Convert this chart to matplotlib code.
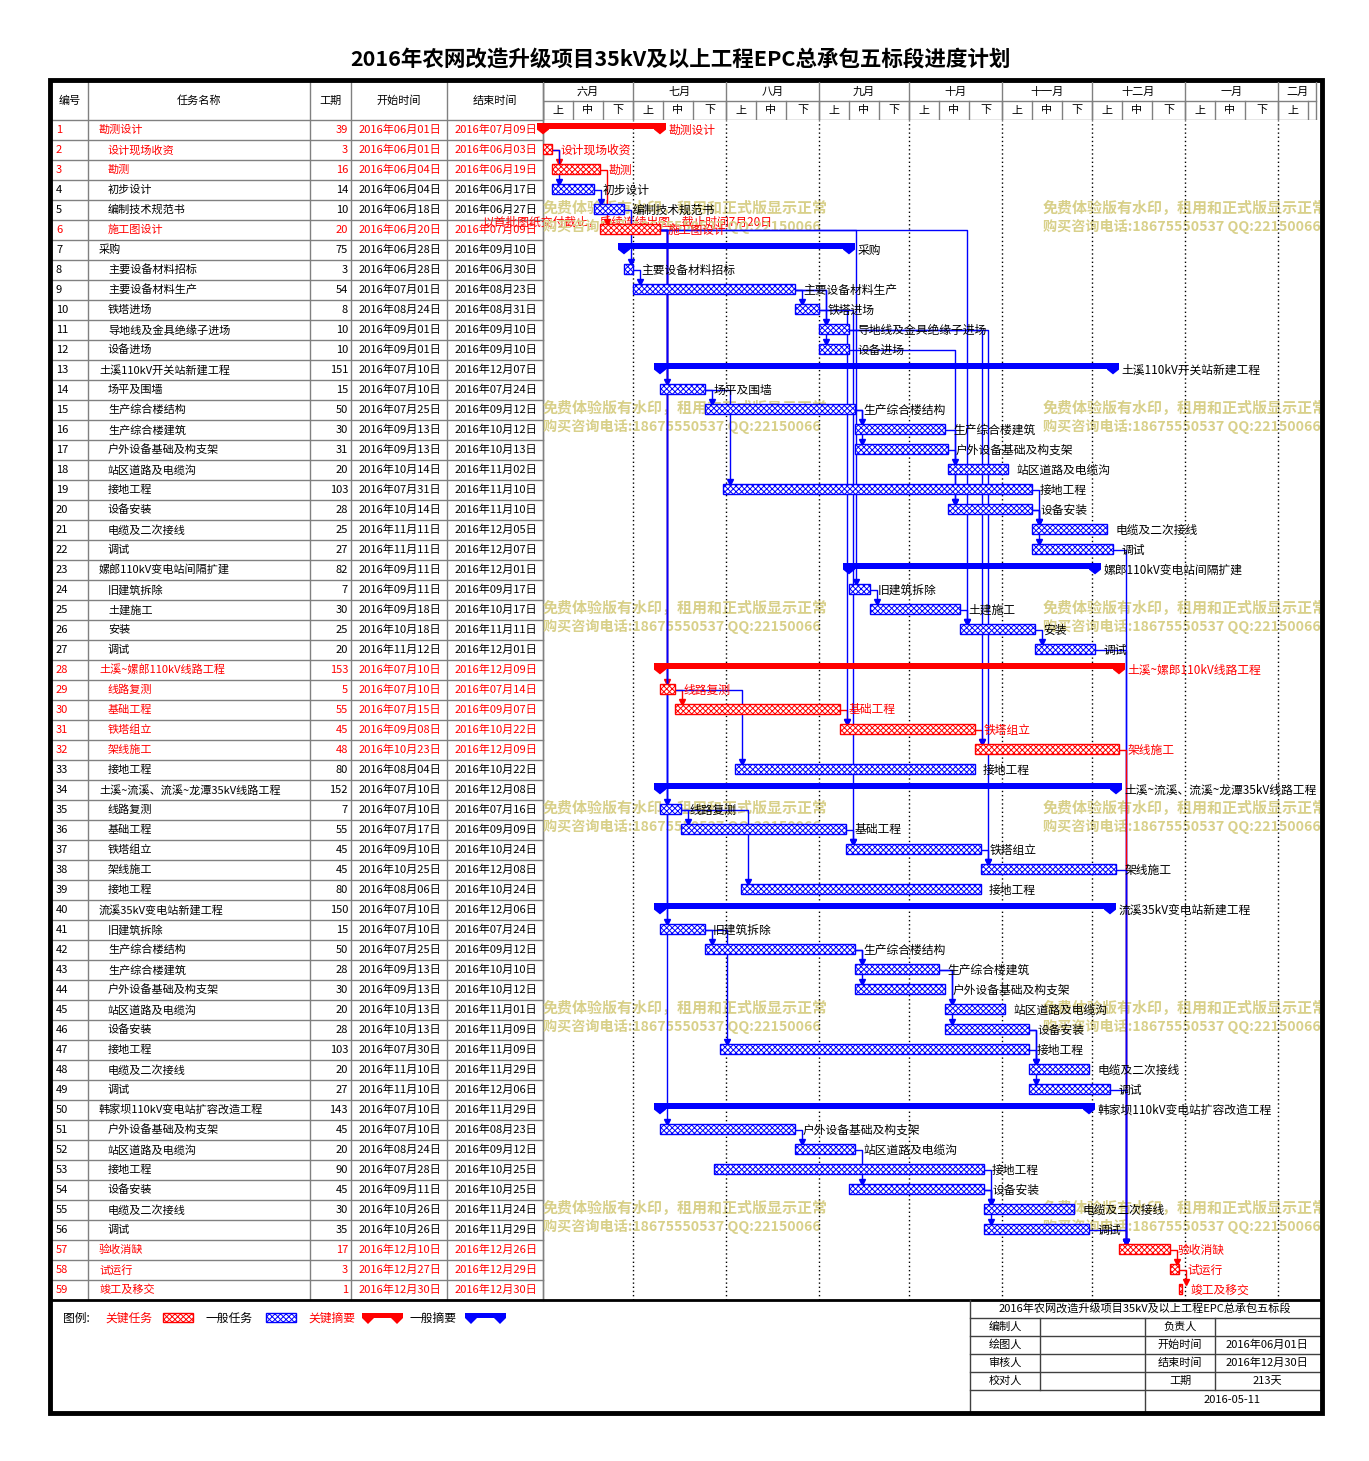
import numpy as np
import matplotlib.pyplot as plt
from matplotlib.patches import Rectangle, Polygon

plt.rcParams['font.family'] = ['Noto Sans CJK SC', 'DejaVu Sans']
plt.rcParams['hatch.linewidth'] = 0.7

title = '2016年农网改造升级项目35kV及以上工程EPC总承包五标段进度计划'

# task table
names = [
    '勘测设计', '设计现场收资', '勘测', '初步设计', '编制技术规范书', '施工图设计',
    '采购', '主要设备材料招标', '主要设备材料生产', '铁塔进场', '导地线及金具绝缘子进场', '设备进场',
    '土溪110kV开关站新建工程', '场平及围墙', '生产综合楼结构', '生产综合楼建筑', '户外设备基础及构支架',
    '站区道路及电缆沟', '接地工程', '设备安装', '电缆及二次接线', '调试',
    '嫘郎110kV变电站间隔扩建', '旧建筑拆除', '土建施工', '安装', '调试',
    '土溪~嫘郎110kV线路工程', '线路复测', '基础工程', '铁塔组立', '架线施工', '接地工程',
    '土溪~流溪、流溪~龙潭35kV线路工程', '线路复测', '基础工程', '铁塔组立', '架线施工', '接地工程',
    '流溪35kV变电站新建工程', '旧建筑拆除', '生产综合楼结构', '生产综合楼建筑', '户外设备基础及构支架',
    '站区道路及电缆沟', '设备安装', '接地工程', '电缆及二次接线', '调试',
    '韩家坝110kV变电站扩容改造工程', '户外设备基础及构支架', '站区道路及电缆沟', '接地工程', '设备安装',
    '电缆及二次接线', '调试',
    '验收消缺', '试运行', '竣工及移交',
]
durations = [39, 3, 16, 14, 10, 20, 75, 3, 54, 8, 10, 10, 151, 15, 50, 30, 31, 20, 103, 28, 25, 27,
             82, 7, 30, 25, 20, 153, 5, 55, 45, 48, 80, 152, 7, 55, 45, 45, 80,
             150, 15, 50, 28, 30, 20, 28, 103, 20, 27, 143, 45, 20, 90, 45, 30, 35, 17, 3, 1]
starts = [
    '2016-06-01', '2016-06-01', '2016-06-04', '2016-06-04', '2016-06-18', '2016-06-20',
    '2016-06-28', '2016-06-28', '2016-07-01', '2016-08-24', '2016-09-01', '2016-09-01',
    '2016-07-10', '2016-07-10', '2016-07-25', '2016-09-13', '2016-09-13', '2016-10-14',
    '2016-07-31', '2016-10-14', '2016-11-11', '2016-11-11',
    '2016-09-11', '2016-09-11', '2016-09-18', '2016-10-18', '2016-11-12',
    '2016-07-10', '2016-07-10', '2016-07-15', '2016-09-08', '2016-10-23', '2016-08-04',
    '2016-07-10', '2016-07-10', '2016-07-17', '2016-09-10', '2016-10-25', '2016-08-06',
    '2016-07-10', '2016-07-10', '2016-07-25', '2016-09-13', '2016-09-13', '2016-10-13',
    '2016-10-13', '2016-07-30', '2016-11-10', '2016-11-10',
    '2016-07-10', '2016-07-10', '2016-08-24', '2016-07-28', '2016-09-11', '2016-10-26', '2016-10-26',
    '2016-12-10', '2016-12-27', '2016-12-30',
]
ends = [
    '2016-07-09', '2016-06-03', '2016-06-19', '2016-06-17', '2016-06-27', '2016-07-09',
    '2016-09-10', '2016-06-30', '2016-08-23', '2016-08-31', '2016-09-10', '2016-09-10',
    '2016-12-07', '2016-07-24', '2016-09-12', '2016-10-12', '2016-10-13', '2016-11-02',
    '2016-11-10', '2016-11-10', '2016-12-05', '2016-12-07',
    '2016-12-01', '2016-09-17', '2016-10-17', '2016-11-11', '2016-12-01',
    '2016-12-09', '2016-07-14', '2016-09-07', '2016-10-22', '2016-12-09', '2016-10-22',
    '2016-12-08', '2016-07-16', '2016-09-09', '2016-10-24', '2016-12-08', '2016-10-24',
    '2016-12-06', '2016-07-24', '2016-09-12', '2016-10-10', '2016-10-12', '2016-11-01',
    '2016-11-09', '2016-11-09', '2016-11-29', '2016-12-06',
    '2016-11-29', '2016-08-23', '2016-09-12', '2016-10-25', '2016-10-25', '2016-11-24', '2016-11-29',
    '2016-12-26', '2016-12-29', '2016-12-30',
]
summary_rows = [1, 7, 13, 23, 28, 34, 40, 50]
critical_rows = [1, 2, 3, 6, 28, 29, 30, 31, 32, 57, 58, 59]
top_rows = [1, 7, 13, 23, 28, 34, 40, 50, 57, 58, 59]

# finish-to-start links (predecessor row, successor row)
links = [
    (2, 3), (2, 4), (3, 6), (4, 5), (5, 8), (8, 9), (9, 10), (9, 11), (9, 12),
    (6, 14), (6, 29), (6, 35), (6, 41), (6, 51), (6, 24), (6, 26),
    (14, 15), (14, 19), (15, 16), (15, 17), (16, 18), (17, 20), (12, 20),
    (19, 21), (20, 21), (20, 22),
    (24, 25), (25, 26), (26, 27),
    (29, 30), (30, 31), (31, 32), (29, 33), (10, 31), (10, 37), (11, 32), (11, 38),
    (35, 36), (36, 37), (37, 38), (35, 39),
    (41, 42), (42, 43), (42, 44), (43, 45), (43, 46), (41, 47), (46, 48), (47, 48), (46, 49),
    (51, 52), (52, 54), (53, 55), (54, 56), (54, 55),
    (22, 57), (27, 57), (32, 57), (38, 57), (49, 57), (56, 57), (57, 58), (58, 59),
]

month_starts = ['2016-06-01', '2016-07-01', '2016-08-01', '2016-09-01', '2016-10-01',
                '2016-11-01', '2016-12-01', '2017-01-01', '2017-02-01']
month_names = ['六月', '七月', '八月', '九月', '十月', '十一月', '十二月', '一月', '二月']
dekad_names = ['上', '中', '下']

RED = '#ff0000'
BLUE = '#0000ff'
GRID = '#808080'
WM = '#d8d08a'

t0 = np.datetime64('2016-06-01')
s_day = (np.array(starts, dtype='datetime64[D]') - t0).astype(int)
e_day = (np.array(ends, dtype='datetime64[D]') - t0).astype(int) + 1
m_day = (np.array(month_starts, dtype='datetime64[D]') - t0).astype(int)
XMAX = 259
HMAX = 257.7


def fmt(d):
    y, m, dd = d.split('-')
    return f'{y}年{m}月{dd}日'


W, H = 1369, 1461
fig = plt.figure(figsize=(W / 100, H / 100), dpi=100)


def frac(x0, y0, x1, y1):
    return [x0 / W, 1 - y1 / H, (x1 - x0) / W, (y1 - y0) / H]


bg = fig.add_axes([0, 0, 1, 1])
bg.set_xlim(0, W)
bg.set_ylim(H, 0)
bg.axis('off')

bg.text(680, 60, title, ha='center', va='center', fontsize=15.5, fontweight='bold')

# table
cols = [52, 88, 310, 351, 447, 543]
for x in cols[1:]:
    bg.plot([x, x], [82, 1300], color=GRID, lw=1)
for k in range(59):
    y = 120 + 20 * k
    bg.plot([52, 543], [y, y], color=GRID, lw=1)
heads = [('编号', 70), ('任务名称', 199), ('工期', 330), ('开始时间', 399), ('结束时间', 495)]
for t, x in heads:
    bg.text(x, 101, t, ha='center', va='center', fontsize=8)

for i in range(59):
    r = i + 1
    y = 130 + 20 * i
    c = RED if r in critical_rows else 'black'
    bg.text(56, y, str(r), va='center', fontsize=8, color=c)
    bg.text(99 if r in top_rows else 108, y, names[i], va='center', fontsize=8, color=c)
    bg.text(348, y, str(durations[i]), va='center', ha='right', fontsize=8, color=c)
    bg.text(400, y, fmt(starts[i]), va='center', ha='center', fontsize=8, color=c)
    bg.text(496, y, fmt(ends[i]), va='center', ha='center', fontsize=8, color=c)

bg.text(483, 222, '以首批图纸交付截止，后续连续出图，截止时间7月20日', va='center',
        fontsize=8.5, color=RED, zorder=6)

# gantt header
hx = fig.add_axes(frac(543, 82, 1320, 120))
hx.set_xlim(0, XMAX)
hx.set_ylim(2, 0)
hx.axis('off')
hx.plot([0, HMAX], [1, 1], color=GRID, lw=1)
hx.plot([0, HMAX], [2, 2], color=GRID, lw=1)
hx.plot([HMAX, HMAX], [0, 2], color=GRID, lw=1)
for k, m0 in enumerate(m_day):
    m1 = min(m0 + 31, HMAX) if k == len(m_day) - 1 else m_day[k + 1]
    hx.plot([m0, m0], [0, 2], color=GRID, lw=1)
    hx.text((m0 + m1) / 2, 0.5, month_names[k], ha='center', va='center', fontsize=8)
    base = np.datetime64(month_starts[k][:8] + '01')
    d_starts = [base, base + np.timedelta64(10, 'D'), base + np.timedelta64(20, 'D')]
    d_ends = [base + np.timedelta64(10, 'D'), base + np.timedelta64(20, 'D'),
              np.datetime64(month_starts[k + 1]) if k < len(m_day) - 1 else base + np.timedelta64(28, 'D')]
    for j in range(3):
        a = int((d_starts[j] - t0).astype(int))
        b = min(int((d_ends[j] - t0).astype(int)), HMAX)
        if a >= HMAX:
            continue
        hx.plot([a, a], [1, 2], color=GRID, lw=1)
        if b - a >= 8:
            hx.text((a + b) / 2, 1.5, dekad_names[j], ha='center', va='center', fontsize=8)

# gantt body
ax = fig.add_axes(frac(543, 120, 1320, 1300))
ax.set_xlim(0, XMAX)
ax.set_ylim(59.5, 0.5)
ax.axis('off')
for m0 in m_day[1:]:
    ax.axvline(m0, color='black', ls=(0, (1, 2)), lw=1, zorder=1)

for i in range(59):
    r = i + 1
    s, e = s_day[i], e_day[i]
    crit = r in critical_rows
    c = RED if crit else BLUE
    if r in summary_rows:
        ax.barh(r - 0.2, e - s, left=s, height=0.3, color=c, lw=0, zorder=4)
        for x in (s, e):
            ax.add_patch(Polygon([(x - 2, r - 0.35), (x + 2, r - 0.35), (x + 2, r - 0.02),
                                  (x, r + 0.22), (x - 2, r - 0.02)],
                                 closed=True, color=c, lw=0, zorder=4, clip_on=False))
    else:
        ax.barh(r - 0.05, e - s, left=s, height=0.5, facecolor='white', edgecolor=c,
                hatch='xxxxxx', lw=1, zorder=4)
    ax.text(e + 2.7, r, names[i], va='center', fontsize=8.5,
            color=RED if crit else 'black', zorder=5)

for a, b in links:
    xe = e_day[a - 1]
    xs = s_day[b - 1]
    xv = max(xe, xs) + 2.3
    c = RED if (a in critical_rows and b in critical_rows) else BLUE
    ax.plot([xe, xv, xv], [a, a, b - 0.34], color=c, lw=1, zorder=3)
    ax.plot(xv, b - 0.38, marker='v', color=c, ms=5, zorder=3)

# watermark
clip = Rectangle((543, 120), 777, 1180, transform=bg.transData, fill=False, lw=0)
bg.add_patch(clip)
for k in range(6):
    for x in (543, 1043):
        t1 = bg.text(x, 208 + 200 * k, '免费体验版有水印，租用和正式版显示正常', va='center',
                     fontsize=10.8, fontweight='bold', color=WM, zorder=8, clip_on=True)
        t2 = bg.text(x, 226 + 200 * k, '购买咨询电话:18675550537 QQ:22150066', va='center',
                     fontsize=10.2, fontweight='bold', color=WM, zorder=8, clip_on=True)
        t1.set_clip_path(clip)
        t2.set_clip_path(clip)

# borders
bg.plot([543, 543], [82, 1300], color=GRID, lw=1)
bg.plot([50, 1322], [1300, 1300], color='black', lw=2)
bg.add_patch(Rectangle((50, 80), 1272, 1333, fill=False, lw=3.5, ec='black', zorder=9))

# legend
bg.text(63, 1318, '图例:', va='center', fontsize=8.5)
bg.text(105, 1318, '关键任务', va='center', fontsize=8.5, color=RED)
bg.add_patch(Rectangle((163, 1313), 30, 9, facecolor='white', edgecolor=RED, hatch='xxxxxx', lw=1))
bg.text(206, 1318, '一般任务', va='center', fontsize=8.5)
bg.add_patch(Rectangle((266, 1313), 30, 9, facecolor='white', edgecolor=BLUE, hatch='xxxxxx', lw=1))
bg.text(308, 1318, '关键摘要', va='center', fontsize=8.5, color=RED)
bg.text(410, 1318, '一般摘要', va='center', fontsize=8.5)
for x0, c in ((362, RED), (465, BLUE)):
    bg.add_patch(Rectangle((x0, 1313), 41, 5, color=c, lw=0))
    for x in (x0 + 6, x0 + 35):
        bg.add_patch(Polygon([(x - 6, 1313), (x + 6, 1313), (x + 6, 1318), (x, 1324), (x - 6, 1318)],
                             closed=True, color=c, lw=0))

# info box
LC = '#404040'
bg.plot([970, 970], [1300, 1413], color=LC, lw=1)
for y in (1318, 1336, 1354, 1372, 1390):
    bg.plot([970, 1320], [y, y], color=LC, lw=1)
bg.plot([1040, 1040], [1318, 1390], color=LC, lw=1)
bg.plot([1145, 1145], [1318, 1413], color=LC, lw=1)
bg.plot([1215, 1215], [1318, 1390], color=LC, lw=1)
total_days = int(e_day.max() - s_day.min())
bg.text(1145, 1309, '2016年农网改造升级项目35kV及以上工程EPC总承包五标段', ha='center', va='center', fontsize=8)
info_left = ['编制人', '绘图人', '审核人', '校对人']
info_mid = ['负责人', '开始时间', '结束时间', '工期']
info_right = ['', fmt(starts[0]), fmt(ends[-1]), f'{total_days}天']
for k in range(4):
    y = 1327 + 18 * k
    bg.text(1005, y, info_left[k], ha='center', va='center', fontsize=8)
    bg.text(1180, y, info_mid[k], ha='center', va='center', fontsize=8)
    bg.text(1267, y, info_right[k], ha='center', va='center', fontsize=8)
bg.text(1232, 1400, '2016-05-11', ha='center', va='center', fontsize=8)

fig.savefig('out.png', dpi=100)
